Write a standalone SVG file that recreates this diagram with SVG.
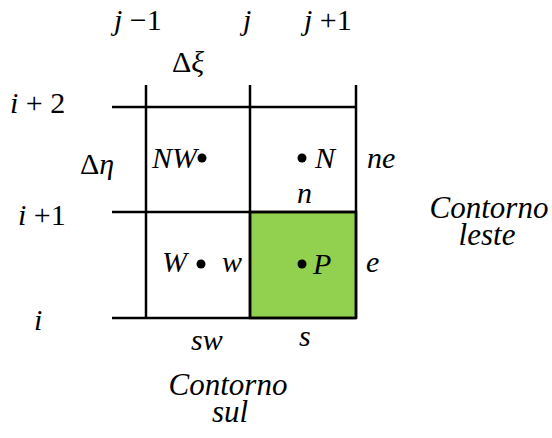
<svg xmlns="http://www.w3.org/2000/svg" width="552" height="438" viewBox="0 0 552 438">
<defs>
<circle id="dot" r="4.5" fill="#000"/>
</defs>
<rect width="552" height="438" fill="#fff"/>
<g id="cellP"><rect x="250" y="212" width="106" height="106" fill="#92d050" stroke="#000" stroke-width="2.5"/></g>
<g id="grid" stroke="#000" stroke-width="2.5" fill="none">
<line x1="112" y1="107" x2="356" y2="107"/>
<line x1="112" y1="212" x2="356" y2="212"/>
<line x1="112" y1="318" x2="356" y2="318"/>
<line x1="146" y1="85" x2="146" y2="318"/>
<line x1="250" y1="85" x2="250" y2="318"/>
<line x1="356" y1="85" x2="356" y2="318"/>
</g>
<g id="labels">
<text font-family="'Times New Roman', 'Liberation Serif', serif" font-size="30" x="114" y="30"><tspan font-style="italic">j</tspan> −1</text>
<text font-family="'Times New Roman', 'Liberation Serif', serif" font-size="30" font-style="italic" x="243" y="30">j</text>
<text font-family="'Times New Roman', 'Liberation Serif', serif" font-size="30" x="304" y="30"><tspan font-style="italic">j</tspan> +1</text>
<text font-family="'Times New Roman', 'Liberation Serif', serif" font-size="30" x="172" y="72">Δ<tspan font-style="italic">ξ</tspan></text>
<text font-family="'Times New Roman', 'Liberation Serif', serif" font-size="30" x="10" y="113"><tspan font-style="italic">i</tspan> + 2</text>
<text font-family="'Times New Roman', 'Liberation Serif', serif" font-size="30" x="18" y="225"><tspan font-style="italic">i</tspan> +1</text>
<text font-family="'Times New Roman', 'Liberation Serif', serif" font-size="30" font-style="italic" x="34" y="330">i</text>
<text font-family="'Times New Roman', 'Liberation Serif', serif" font-size="30" x="80" y="174">Δ<tspan font-style="italic">η</tspan></text>
</g>
<g id="NW"><text font-family="'Times New Roman', 'Liberation Serif', serif" font-size="30" font-style="italic" x="152" y="168">NW</text><use href="#dot" x="202" y="158"/></g>
<g id="N"><use href="#dot" x="302" y="158"/><text font-family="'Times New Roman', 'Liberation Serif', serif" font-size="30" font-style="italic" x="315" y="168">N</text></g>
<g id="ne"><text font-family="'Times New Roman', 'Liberation Serif', serif" font-size="30" font-style="italic" x="367" y="168">ne</text></g>
<g id="n"><text font-family="'Times New Roman', 'Liberation Serif', serif" font-size="30" font-style="italic" x="297" y="203">n</text></g>
<g id="W"><text font-family="'Times New Roman', 'Liberation Serif', serif" font-size="30" font-style="italic" x="162" y="272">W</text><use href="#dot" x="201" y="264"/><text font-family="'Times New Roman', 'Liberation Serif', serif" font-size="30" font-style="italic" x="222" y="272">w</text></g>
<g id="P"><use href="#dot" x="302" y="264"/><text font-family="'Times New Roman', 'Liberation Serif', serif" font-size="30" font-style="italic" x="313" y="274">P</text></g>
<g id="e"><text font-family="'Times New Roman', 'Liberation Serif', serif" font-size="30" font-style="italic" x="366" y="272">e</text></g>
<g id="sw"><text font-family="'Times New Roman', 'Liberation Serif', serif" font-size="30" font-style="italic" x="191" y="350">sw</text></g>
<g id="s"><text font-family="'Times New Roman', 'Liberation Serif', serif" font-size="30" font-style="italic" x="299" y="346">s</text></g>
<g id="leste"><text font-family="'Times New Roman', 'Liberation Serif', serif" font-size="31" font-style="italic" x="489" y="218" text-anchor="middle">Contorno</text><text font-family="'Times New Roman', 'Liberation Serif', serif" font-size="31" font-style="italic" x="487" y="245" text-anchor="middle">leste</text></g>
<g id="sul"><text font-family="'Times New Roman', 'Liberation Serif', serif" font-size="31" font-style="italic" x="228" y="395" text-anchor="middle">Contorno</text><text font-family="'Times New Roman', 'Liberation Serif', serif" font-size="31" font-style="italic" x="230" y="422" text-anchor="middle">sul</text></g>
</svg>
